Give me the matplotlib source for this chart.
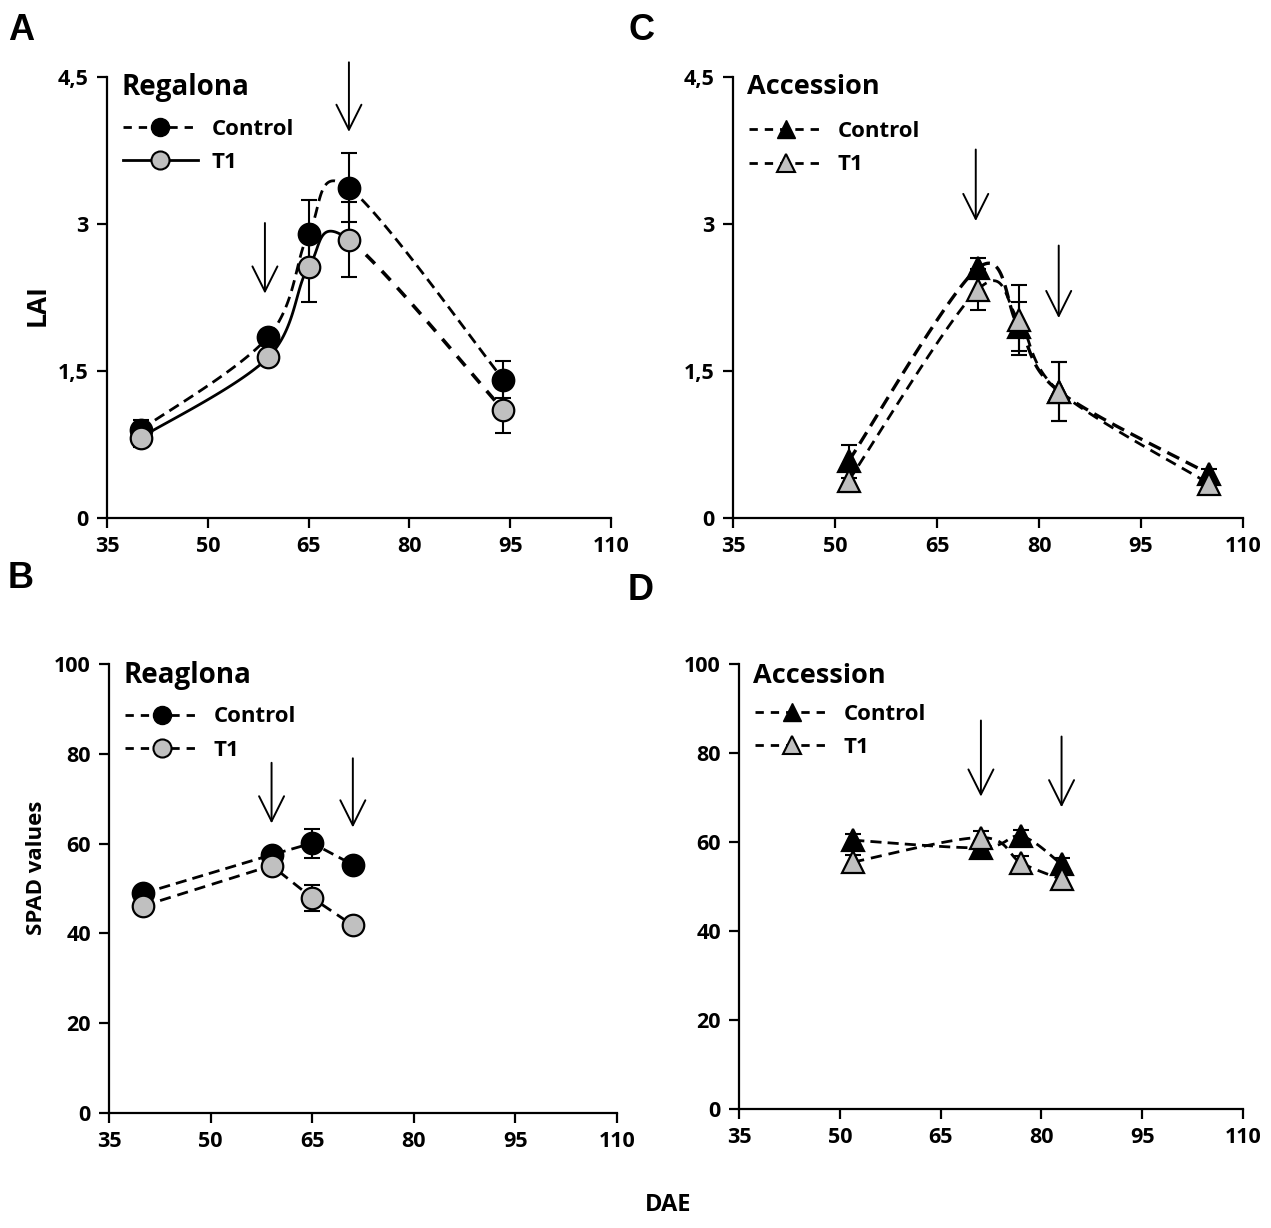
import matplotlib

matplotlib.use("Agg")
import matplotlib.pyplot as plt
import numpy as np
from matplotlib.lines import Line2D

plt.rcParams.update({
    "font.family": ["Open Sans", "DejaVu Sans"],
    "font.weight": "bold",
    "axes.linewidth": 1.6,
    "xtick.major.width": 1.6,
    "ytick.major.width": 1.6,
    "xtick.major.size": 7,
    "ytick.major.size": 7,
})

# ---- data ---------------------------------------------------------------
# A: LAI, Regalona
reg_dae = [40, 59, 65, 71, 94]
reg_lai_ctrl = [0.90, 1.85, 2.90, 3.37, 1.41]
reg_lai_ctrl_err = [0.10, 0.07, 0.35, 0.35, 0.19]
reg_lai_t1 = [0.82, 1.64, 2.56, 2.84, 1.10]
reg_lai_t1_err = [0.10, 0.05, 0.36, 0.38, 0.23]

# C: LAI, Accession
acc_dae = [52, 71, 77, 83, 105]
acc_lai_ctrl = [0.58, 2.55, 1.95, 1.29, 0.45]
acc_lai_ctrl_err = [0.17, 0.10, 0.25, 0.30, 0.05]
acc_lai_t1 = [0.38, 2.33, 2.02, 1.29, 0.35]
acc_lai_t1_err = [0.11, 0.21, 0.36, 0.30, 0.05]

# B: SPAD, Regalona
reg_spad_dae = [40, 59, 65, 71]
reg_spad_ctrl = [48.9, 57.5, 60.1, 55.3]
reg_spad_ctrl_err = [1.0, 1.0, 3.2, 1.0]
reg_spad_t1 = [46.1, 55.1, 47.9, 41.8]
reg_spad_t1_err = [1.0, 1.0, 2.8, 1.0]

# D: SPAD, Accession
acc_spad_dae = [52, 71, 77, 83]
acc_spad_ctrl = [60.4, 58.7, 61.3, 55.0]
acc_spad_ctrl_err = [1.5, 1.5, 1.5, 1.5]
acc_spad_t1 = [55.5, 61.0, 55.3, 51.6]
acc_spad_t1_err = [1.5, 1.5, 1.5, 1.5]

# arrows: (x, y_start, y_end)
arrows_a = [(58.5, 3.01, 2.29), (71, 4.65, 3.94)]
arrows_b = [(59, 78, 64.5), (71, 79, 63.6)]
arrows_c = [(70.7, 3.76, 3.03), (82.9, 2.78, 2.04)]
arrows_d = [(71, 87.3, 70.2), (83, 83.7, 67.8)]

GREY = "#c0c0c0"
CTRL_DASH = (0, (4, 2.2))
T1_DASH = (0, (4, 2.5))


def smooth(ax, x, y, n=40):
    """Excel-style smoothed line (uniform Catmull-Rom), computed in pixel space."""
    fig = ax.figure
    pos = ax.get_position()
    w = pos.width * fig.get_figwidth() * fig.dpi
    h = pos.height * fig.get_figheight() * fig.dpi
    x0, x1 = ax.get_xlim()
    y0, y1 = ax.get_ylim()
    sx, sy = w / (x1 - x0), h / (y1 - y0)
    p = np.column_stack([np.asarray(x, float) * sx, np.asarray(y, float) * sy])
    ext = np.vstack([p[:1], p, p[-1:]])
    t = np.linspace(0, 1, n)[:, None]
    segs = []
    for i in range(len(p) - 1):
        p0, p1, p2, p3 = ext[i], ext[i + 1], ext[i + 2], ext[i + 3]
        c1 = p1 + (p2 - p0) / 6
        c2 = p2 - (p3 - p1) / 6
        b = ((1 - t) ** 3) * p1 + 3 * ((1 - t) ** 2) * t * c1 \
            + 3 * (1 - t) * t ** 2 * c2 + t ** 3 * p2
        segs.append(np.column_stack([b[:, 0] / sx, b[:, 1] / sy]))
    return segs


def style_axes(ax, ylim, yticks, yticklabels):
    ax.set_xlim(35, 110)
    ax.set_ylim(*ylim)
    ax.set_xticks([35, 50, 65, 80, 95, 110])
    ax.set_xticklabels(["35", "50", "65", "80", "95", "110"],
                       fontsize=15.5, fontweight="bold")
    ax.set_yticks(yticks)
    ax.set_yticklabels(yticklabels, fontsize=15.5, fontweight="bold")
    for side in ("top", "right"):
        ax.spines[side].set_visible(False)
    ax.tick_params(direction="out", pad=6)


def points(ax, x, y, err, marker, face):
    ax.errorbar(x, y, yerr=err, fmt="none", ecolor="black", elinewidth=1.5,
                capsize=6, capthick=1.5, zorder=3)
    ax.plot(x, y, linestyle="none", marker=marker, markersize=15.5,
            markerfacecolor=face, markeredgecolor="black",
            markeredgewidth=1.6, zorder=4)


def arrows(ax, specs):
    for x, ys, ye in specs:
        ax.annotate("", xy=(x, ye), xytext=(x, ys),
                    arrowprops=dict(arrowstyle="->,head_length=0.9,head_width=0.45",
                                    lw=1.4, color="black", mutation_scale=20,
                                    shrinkA=0, shrinkB=0))


def legend(ax, title, marker, ctrl_ls, t1_ls, yrow, title_y, tsize=20):
    ax.text(0.028, title_y, title, transform=ax.transAxes, fontsize=tsize,
            fontweight="bold", va="center", ha="left")
    handles = [
        Line2D([], [], color="black", linestyle=ctrl_ls, lw=2, marker=marker,
               markersize=13, markerfacecolor="black", markeredgecolor="black"),
        Line2D([], [], color="black", linestyle=t1_ls, lw=2, marker=marker,
               markersize=13, markerfacecolor=GREY, markeredgecolor="black",
               markeredgewidth=1.5),
    ]
    leg = ax.legend(handles, ["Control", "T1"], loc="upper left",
                    bbox_to_anchor=(0.0, yrow), frameon=False, fontsize=16,
                    handlelength=3.4, labelspacing=0.55, borderaxespad=0.3,
                    handletextpad=0.6)
    for txt in leg.get_texts():
        txt.set_fontweight("bold")


fig = plt.figure(figsize=(12.71, 12.28), dpi=100)
W, H = 1271, 1228


def add_axes(left, right, top, bottom):
    return fig.add_axes([left / W, 1 - bottom / H, (right - left) / W, (bottom - top) / H])


ax_a = add_axes(107, 611, 77, 518)
ax_c = add_axes(733, 1243, 77, 518)
ax_b = add_axes(109, 617, 664, 1113)
ax_d = add_axes(739, 1243, 664, 1109)

lai_ticks = [0, 1.5, 3, 4.5]
lai_labels = ["0", "1,5", "3", "4,5"]
spad_ticks = [0, 20, 40, 60, 80, 100]
for ax in (ax_a, ax_c):
    style_axes(ax, (0, 4.5), lai_ticks, lai_labels)
for ax in (ax_b, ax_d):
    style_axes(ax, (0, 100), spad_ticks, [str(v) for v in spad_ticks])

# ---- A ---------------------------------------------------------------------
for seg in smooth(ax_a, reg_dae, reg_lai_ctrl):
    ax_a.plot(seg[:, 0], seg[:, 1], color="black", lw=2, linestyle=CTRL_DASH, zorder=2)
t1_segs = smooth(ax_a, reg_dae, reg_lai_t1)
solid = np.vstack(t1_segs[:3])
ax_a.plot(solid[:, 0], solid[:, 1], color="black", lw=2, zorder=2)
ax_a.plot(t1_segs[3][:, 0], t1_segs[3][:, 1], color="black", lw=2.6,
          linestyle=(0, (3.5, 2.8)), zorder=2)
points(ax_a, reg_dae, reg_lai_ctrl, reg_lai_ctrl_err, "o", "black")
points(ax_a, reg_dae, reg_lai_t1, reg_lai_t1_err, "o", GREY)
arrows(ax_a, arrows_a)
legend(ax_a, "Regalona", "o", (0, (3, 2.5)), "-", 0.94, 0.977)

# ---- C ---------------------------------------------------------------------
for seg in smooth(ax_c, acc_dae, acc_lai_ctrl):
    ax_c.plot(seg[:, 0], seg[:, 1], color="black", lw=2.4, linestyle=CTRL_DASH, zorder=2)
for seg in smooth(ax_c, acc_dae, acc_lai_t1):
    ax_c.plot(seg[:, 0], seg[:, 1], color="black", lw=2, linestyle=T1_DASH, zorder=2)
points(ax_c, acc_dae, acc_lai_ctrl, acc_lai_ctrl_err, "^", "black")
points(ax_c, acc_dae, acc_lai_t1, acc_lai_t1_err, "^", GREY)
arrows(ax_c, arrows_c)
legend(ax_c, "Accession", "^", (0, (3, 2.5)), (0, (3, 2.5)), 0.935, 0.977, 19.5)

# ---- B ---------------------------------------------------------------------
ax_b.plot(reg_spad_dae, reg_spad_ctrl, color="black", lw=2, linestyle=CTRL_DASH, zorder=2)
ax_b.plot(reg_spad_dae, reg_spad_t1, color="black", lw=2, linestyle=T1_DASH, zorder=2)
points(ax_b, reg_spad_dae, reg_spad_ctrl, reg_spad_ctrl_err, "o", "black")
points(ax_b, reg_spad_dae, reg_spad_t1, reg_spad_t1_err, "o", GREY)
arrows(ax_b, arrows_b)
legend(ax_b, "Reaglona", "o", (0, (3, 2.5)), (0, (3, 2.5)), 0.94, 0.975)

# ---- D ---------------------------------------------------------------------
for seg in smooth(ax_d, acc_spad_dae, acc_spad_ctrl):
    ax_d.plot(seg[:, 0], seg[:, 1], color="black", lw=2, linestyle=CTRL_DASH, zorder=2)
for seg in smooth(ax_d, acc_spad_dae, acc_spad_t1):
    ax_d.plot(seg[:, 0], seg[:, 1], color="black", lw=2, linestyle=T1_DASH, zorder=2)
points(ax_d, acc_spad_dae, acc_spad_ctrl, acc_spad_ctrl_err, "^", "black")
points(ax_d, acc_spad_dae, acc_spad_t1, acc_spad_t1_err, "^", GREY)
arrows(ax_d, arrows_d)
legend(ax_d, "Accession", "^", (0, (3, 2.5)), (0, (3, 2.5)), 0.945, 0.973, 19.5)

# ---- figure labels ---------------------------------------------------------
letter_kw = dict(fontsize=26, fontweight="bold", family=["Liberation Sans", "DejaVu Sans"],
                 ha="left", va="center")
fig.text(8 / W, 1 - 30 / H, "A", **letter_kw)
fig.text(8 / W, 1 - 578 / H, "B", **letter_kw)
fig.text(628 / W, 1 - 30 / H, "C", **letter_kw)
fig.text(628 / W, 1 - 590 / H, "D", **letter_kw)

fig.text(37 / W, 1 - 305 / H, "LAI", rotation=90, fontsize=19, fontweight="bold",
         ha="center", va="center")
fig.text(37 / W, 1 - 868 / H, "SPAD values", rotation=90, fontsize=16,
         fontweight="bold", ha="center", va="center")
fig.text(668 / W, 1 - 1205 / H, "DAE", fontsize=17, fontweight="bold",
         ha="center", va="center")

fig.savefig("out.png", dpi=100, facecolor="white")
